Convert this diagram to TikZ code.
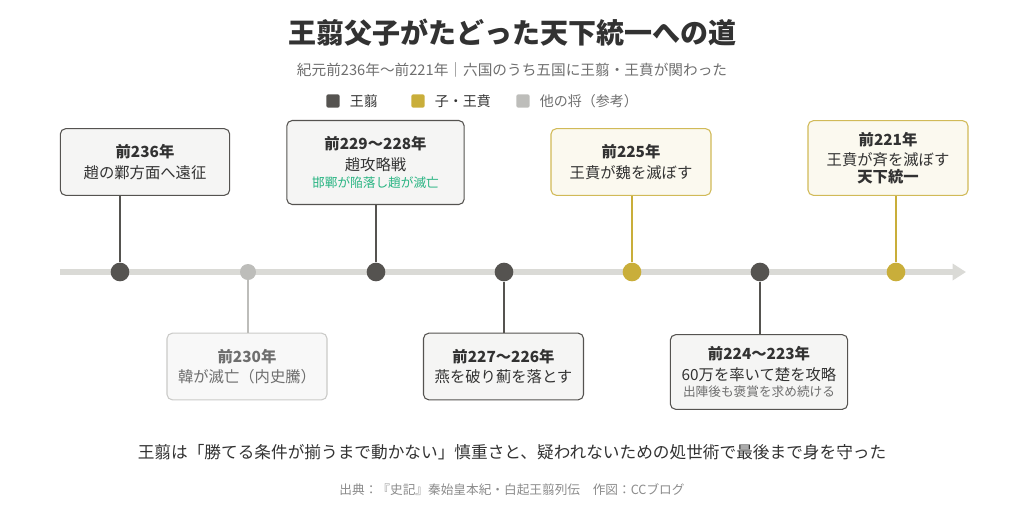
\documentclass[tikz,border=0pt]{standalone}
\usepackage{fontspec}
\setmainfont{Noto Sans CJK JP}
\usepackage{xcolor}
\usetikzlibrary{arrows.meta, positioning}
\definecolor{father}{RGB}{85,83,80}
\definecolor{son}{RGB}{201,174,58}
\definecolor{other}{RGB}{189,189,186}
\definecolor{rail}{RGB}{218,218,214}
\definecolor{inktext}{RGB}{50,50,50}
\definecolor{subtext}{RGB}{110,110,110}
\definecolor{fall}{RGB}{40,180,130}
\tikzset{
    event/.style={rectangle, rounded corners=4pt, draw, thick, text centered, align=center, minimum width=120pt, minimum height=50pt, inner sep=2pt, text=inktext, font=\fontsize{11.5pt}{15.5pt}\selectfont},
    fatherbox/.style={event, draw=father, fill=father!6},
    sonbox/.style={event, draw=son!85, fill=son!8},
    otherbox/.style={event, draw=other!80, fill=other!10, text=subtext},
    dot/.style={circle, minimum size=14pt, inner sep=0pt},
    stem/.style={line width=1.3pt},
    key/.style={rectangle, rounded corners=1.5pt, minimum size=10pt, inner sep=0pt}
}
\begin{document}
\begin{tikzpicture}[x=0.75pt, y=-0.75pt]
    \useasboundingbox (0,0) rectangle (1024,529);

    % Title and legend
    \node[font=\fontsize{21pt}{24pt}\selectfont\bfseries, text=inktext] (title) at (512,33) {王翦父子がたどった天下統一への道};
    \node[font=\fontsize{11pt}{13pt}\selectfont, text=subtext] (subtitle) at (512,70) {紀元前236年～前221年｜六国のうち五国に王翦・王賁が関わった};
    \node[key, fill=father] (k1) at (333,101) {};
    \node[right=4pt of k1, font=\fontsize{10.5pt}{12pt}\selectfont, text=inktext] {王翦};
    \node[key, fill=son] (k2) at (418,101) {};
    \node[right=4pt of k2, font=\fontsize{10.5pt}{12pt}\selectfont, text=inktext] {子・王賁};
    \node[key, fill=other] (k3) at (523,101) {};
    \node[right=4pt of k3, font=\fontsize{10.5pt}{12pt}\selectfont, text=subtext] {他の将（参考）};

    % Timeline
    \coordinate (start) at (60,272);
    \coordinate (end) at (966,272);
    \draw[rail, line width=4pt, -{Triangle[length=10pt, width=12pt]}] (start) -- (end);

    \node[dot, fill=father] (d1) at (120,272) {};
    \node[dot, fill=other, minimum size=12pt] (d2) at (248,272) {};
    \node[dot, fill=father] (d3) at (376,272) {};
    \node[dot, fill=father] (d4) at (504,272) {};
    \node[dot, fill=son] (d5) at (632,272) {};
    \node[dot, fill=father] (d6) at (760,272) {};
    \node[dot, fill=son] (d7) at (896,272) {};

    % Events
    \node[fatherbox, minimum width=127pt] (e1) at (145,162) {\textbf{前236年}\\趙の鄴方面へ遠征};
    \node[otherbox] (e2) at (247,366.5) {\textbf{前230年}\\韓が滅亡（内史騰）};
    \node[fatherbox, minimum width=133pt, minimum height=63pt] (e3) at (375.5,162.5) {\textbf{前229～228年}\\趙攻略戦\\[-3pt]{\color{fall}\fontsize{9.5pt}{11pt}\selectfont 邯鄲が陥落し趙が滅亡}};
    \node[fatherbox] (e4) at (503.5,366.5) {\textbf{前227～226年}\\燕を破り薊を落とす};
    \node[sonbox] (e5) at (631,162) {\textbf{前225年}\\王賁が魏を滅ぼす};
    \node[fatherbox, minimum width=133pt, minimum height=56pt] (e6) at (759,372) {\textbf{前224～223年}\\60万を率いて楚を攻略\\[-3pt]{\color{subtext}\fontsize{9.5pt}{11pt}\selectfont 出陣後も褒賞を求め続ける}};
    \node[sonbox, minimum height=56pt] (e7) at (888,158) {\textbf{前221年}\\王賁が斉を滅ぼす\\[-3pt]\textbf{天下統一}};

    % Stems
    \draw[stem, father] (d1) -- (d1 |- e1.south);
    \draw[stem, other] (d2) -- (d2 |- e2.north);
    \draw[stem, father] (d3) -- (d3 |- e3.south);
    \draw[stem, father] (d4) -- (d4 |- e4.north);
    \draw[stem, son] (d5) -- (d5 |- e5.south);
    \draw[stem, father] (d6) -- (d6 |- e6.north);
    \draw[stem, son] (d7) -- (d7 |- e7.south);

    % Notes
    \node[font=\fontsize{12.5pt}{14pt}\selectfont, text=inktext] (note) at (512,452) {王翦は「勝てる条件が揃うまで動かない」慎重さと、疑われないための処世術で最後まで身を守った};
    \node[font=\fontsize{9.5pt}{11pt}\selectfont, text=subtext!80] (source) at (512,490) {出典：『史記』秦始皇本紀・白起王翦列伝\quad 作図：CCブログ};
\end{tikzpicture}
\end{document}
